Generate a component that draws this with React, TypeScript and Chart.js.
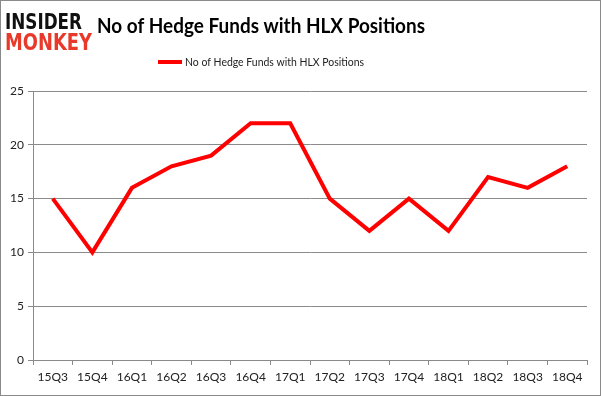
import React, { useEffect, useRef } from "react";
import { Chart, registerables } from "chart.js";

Chart.register(...registerables);

const categories = ["15Q3", "15Q4", "16Q1", "16Q2", "16Q3", "16Q4", "17Q1", "17Q2", "17Q3", "17Q4", "18Q1", "18Q2", "18Q3", "18Q4"];
const hedgeFunds = [15, 10, 16, 18, 19, 22, 22, 15, 12, 15, 12, 17, 16, 18];
const seriesName = "No of Hedge Funds with HLX Positions";
const titleText = "No of Hedge Funds with HLX Positions";
const yTicks = [0, 5, 10, 15, 20, 25];

const FONT = "Lato, 'Open Sans', sans-serif";

const decor = {
  id: "decor",
  afterDraw(chart: any) {
    const ctx = chart.ctx;
    ctx.save();
    // outer border
    ctx.strokeStyle = "#8a8a8a";
    ctx.lineWidth = 1;
    ctx.strokeRect(0.5, 0.5, chart.width - 1, chart.height - 1);
    // logo
    ctx.textBaseline = "alphabetic";
    ctx.textAlign = "left";
    ctx.font = "bold 22px 'DejaVu Sans'";
    ctx.fillStyle = "#111111";
    ctx.fillText("INSIDER", 5, 29, 77);
    ctx.fillStyle = "#e8392b";
    ctx.font = "bold 23px 'DejaVu Sans'";
    ctx.fillText("MONKEY", 5, 50, 87);
    // title
    ctx.fillStyle = "#000000";
    ctx.font = "bold 20px " + FONT;
    ctx.textAlign = "left";
    ctx.fillText(titleText, 97, 33, 328);
    // legend
    ctx.strokeStyle = "#ff0000";
    ctx.lineWidth = 4;
    ctx.beginPath();
    ctx.moveTo(158, 62);
    ctx.lineTo(182, 62);
    ctx.stroke();
    ctx.fillStyle = "#222222";
    ctx.font = "11px " + FONT;
    ctx.textAlign = "left";
    ctx.textBaseline = "middle";
    ctx.fillText(seriesName, 185, 62, 179);
    ctx.restore();
  },
};

export default function App() {
  const ref = useRef<HTMLCanvasElement | null>(null);
  useEffect(() => {
    if (!ref.current) return;
    const chart = new Chart(ref.current, {
      type: "line",
      data: {
        labels: categories,
        datasets: [
          {
            label: seriesName,
            data: hedgeFunds,
            borderColor: "#ff0000",
            backgroundColor: "#ff0000",
            borderWidth: 4,
            pointRadius: 0,
            tension: 0,
          },
        ],
      },
      options: {
        animation: false,
        responsive: false,
        devicePixelRatio: 1,
        layout: { padding: { top: 91, left: 0, right: 14, bottom: 0 } },
        plugins: { legend: { display: false }, title: { display: false }, tooltip: { enabled: false } },
        scales: {
          x: {
            offset: true,
            afterFit(s: any) { s.height = 36; },
            grid: { display: true, offset: true, drawOnChartArea: false, drawTicks: true, tickLength: 5, color: "#8a8a8a" },
            border: { display: true, color: "#8a8a8a" },
            ticks: { color: "#222222", font: { family: FONT, size: 12 }, padding: 5, maxRotation: 0, autoSkip: false },
          },
          y: {
            min: 0,
            max: 25,
            afterFit(s: any) { s.width = 33; },
            afterBuildTicks(s: any) { s.ticks = yTicks.map((v) => ({ value: v })); },
            grid: { color: "#8a8a8a", tickLength: 5, drawTicks: true },
            border: { display: true, color: "#8a8a8a" },
            ticks: { color: "#222222", font: { family: FONT, size: 12 }, padding: 4 },
          },
        },
      },
      plugins: [decor],
    });
    return () => chart.destroy();
  }, []);
  return (
    <div style={{ position: "fixed", left: 0, top: 0, width: 601, height: 396, background: "#fff" }}>
      <canvas ref={ref} width={601} height={396} style={{ width: 601, height: 396, display: "block" }} />
    </div>
  );
}
